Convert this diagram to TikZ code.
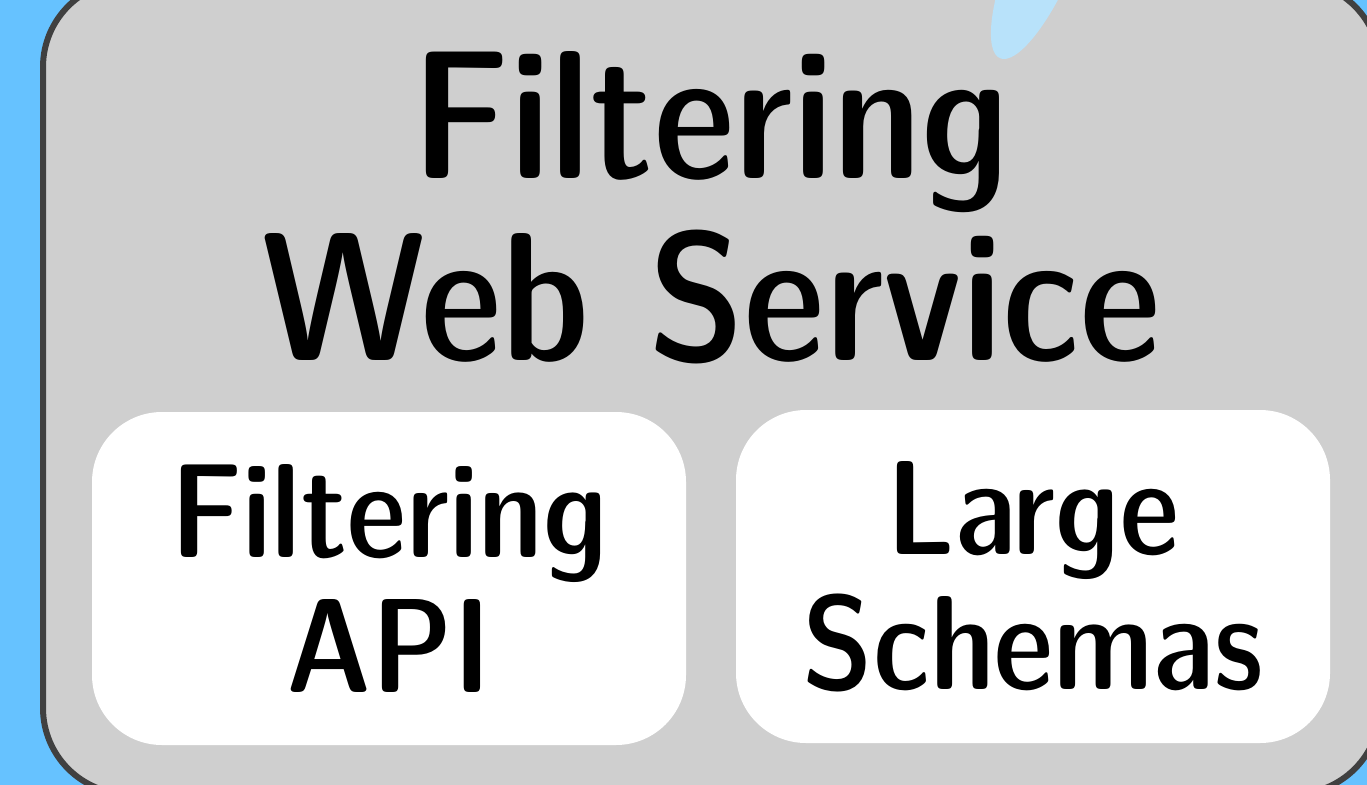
\documentclass[tikz,border=0pt]{standalone}
\usepackage{tikz}
\definecolor{sky}{RGB}{102, 194, 255}
\definecolor{pale}{RGB}{184, 226, 250}
\definecolor{panel}{RGB}{207, 207, 207}
\definecolor{rim}{RGB}{64, 64, 64}

\begin{document}
\begin{tikzpicture}[
   x=1pt, y=-1pt,
   service/.style={rectangle, draw=rim, fill=panel, line width=6, rounded corners=86,
                   minimum width=1337, minimum height=813, inner sep=0},
   part/.style={rectangle, fill=white, rounded corners=70, minimum width=594,
                minimum height=333, inner sep=0, align=center,
                font={\fontseries{sbc}\sffamily\fontsize{134}{135}\selectfont}},
   heading/.style={align=center, inner sep=0,
                   font={\fontseries{sbc}\sffamily\fontsize{183}{182}\selectfont}}
  ]

  % Page
  \useasboundingbox (0, 0) rectangle (1367, 784);
  \fill[sky] (-5, -5) rectangle (1372, 789);

  \node (svc) at (711.5, 387.5) [service] {};
  \fill[pale, rotate around={67:(1043, -43)}] (1043, -43) ellipse [x radius=110pt, y radius=32pt];

  \node (head) at (711, 208) [heading] { Filtering\\Web Service };

  \node (api) at (389, 578.5) [part] { Filtering\\API };
  \node (schemas) at (1033, 576.5) [part] { Large\\Schemas };

\end{tikzpicture}
\end{document}
